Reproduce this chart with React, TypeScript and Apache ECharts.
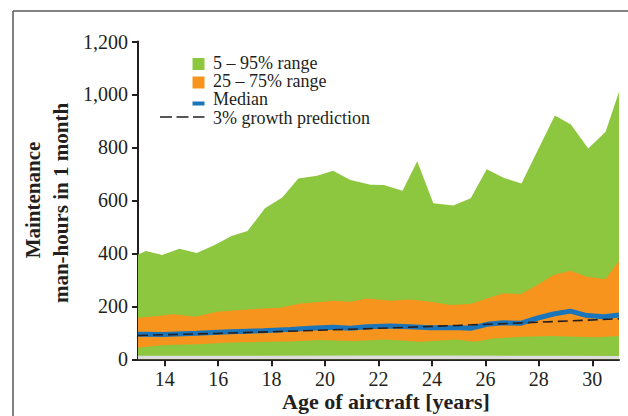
import React, { useEffect, useRef } from "react";
import * as echarts from "echarts";

// 95th percentile (upper edge of 5–95% range)
const ages95 = [13.0, 13.3, 13.9, 14.55, 15.2, 15.85, 16.5, 17.1, 17.75, 18.4, 19.0, 19.7, 20.3, 20.95, 21.7, 22.2, 22.9, 23.45, 24.05, 24.8, 25.45, 26.05, 26.7, 27.35, 28.6, 29.2, 29.85, 30.5, 31.0];
const p95 = [396, 409, 394, 417, 401, 431, 466, 484, 570, 611, 683, 693, 712, 677, 659, 658, 636, 748, 589, 581, 608, 718, 685, 664, 921, 887, 796, 859, 1010];

// 75th percentile
const ages75 = [13.0, 13.65, 14.33, 15.14, 15.96, 16.83, 17.7, 18.33, 19.07, 19.45, 20.32, 20.95, 21.57, 22.44, 23.19, 23.94, 24.69, 25.44, 26.06, 26.68, 27.31, 27.93, 28.55, 29.18, 29.8, 30.49, 31.0];
const p75 = [157, 163, 170, 161, 180, 186, 192, 195, 211, 214, 221, 217, 230, 221, 226, 217, 205, 209, 230, 249, 246, 280, 318, 334, 312, 302, 372];

// 25th percentile
const ages25 = [13.0, 13.95, 15.2, 16.45, 17.7, 18.7, 19.8, 21.05, 22.3, 23.55, 24.9, 25.6, 26.3, 27.45, 28.45, 29.45, 30.2, 31.0];
const p25 = [44, 54, 57, 63, 66, 67, 73, 69, 75, 66, 75, 66, 79, 85, 88, 85, 83, 88];

// 5th percentile
const ages5 = [13, 17, 21, 25, 29, 31];
const p5 = [13, 13, 14, 14, 13, 12];

// Median
const agesMed = [13.0, 13.95, 15.2, 16.45, 17.7, 18.7, 19.45, 20.3, 20.95, 21.57, 22.44, 23.19, 23.94, 25.06, 25.44, 26.06, 26.68, 27.31, 27.93, 28.55, 29.18, 29.8, 30.43, 31.0];
const median = [95, 94, 98, 104, 108, 113, 117, 121, 117, 123, 126, 123, 119, 119, 117, 132, 138, 136, 155, 171, 182, 165, 161, 167];

// 3% growth prediction
const agesGrowth = [13, 16, 19, 22, 25, 28, 31];
const growth = [90, 98, 107, 117, 128, 140, 153];

const xTicks = [14, 16, 18, 20, 22, 24, 26, 28, 30];
const legendLabels = ["5 – 95% range", "25 – 75% range", "Median", "3% growth prediction"];
const xTitle = "Age of aircraft [years]";
const yTitle = ["Maintenance", "man-hours in 1 month"];

const GREEN = "#8dc63f";
const ORANGE = "#f7941d";
const BLUE = "#1b75bb";
const INK = "#231f20";
const FONT = "Liberation Serif";

const pairs = (xs: number[], ys: number[]) => xs.map((x, i) => [x, ys[i]]);

export default function App() {
  const ref = useRef<HTMLDivElement>(null);
  useEffect(() => {
    if (!ref.current) return;
    const chart = echarts.init(ref.current, null, { renderer: "svg" });
    const area = (name: string, xs: number[], ys: number[], color: string, z: number) => ({
      name,
      type: "line",
      data: pairs(xs, ys),
      symbol: "none",
      lineStyle: { width: 0, color },
      areaStyle: { color, opacity: 1 },
      z,
      silent: true,
    });
    const legendY = [62.95, 81.15, 99.35, 117.55];
    chart.setOption({
      animation: false,
      grid: { left: 138, right: 9, top: 41.5, bottom: 56.7 },
      xAxis: {
        type: "value",
        min: 13,
        max: 31,
        axisLine: { lineStyle: { color: INK, width: 2 } },
        axisTick: { customValues: xTicks, length: 7, lineStyle: { color: INK, width: 2 } },
        axisLabel: { customValues: xTicks, margin: 10, color: INK, fontFamily: FONT, fontSize: 20 },
        splitLine: { show: false },
      },
      yAxis: {
        type: "value",
        min: 0,
        max: 1200,
        interval: 200,
        axisLine: { show: true, lineStyle: { color: INK, width: 2 } },
        axisTick: { show: true, length: 6, lineStyle: { color: INK, width: 2 } },
        axisLabel: {
          margin: 10,
          color: INK,
          fontFamily: FONT,
          fontSize: 20,
          formatter: (v: number) => v.toLocaleString("en-US"),
        },
        splitLine: { show: false },
      },
      series: [
        area(legendLabels[0], ages95, p95, GREEN, 1),
        area(legendLabels[1], ages75, p75, ORANGE, 2),
        area("25th", ages25, p25, GREEN, 3),
        area("5th", ages5, p5, "#dcdcdc", 4),
        {
          name: legendLabels[2],
          type: "line",
          data: pairs(agesMed, median),
          symbol: "none",
          lineStyle: { color: BLUE, width: 5 },
          z: 5,
        },
        {
          name: legendLabels[3],
          type: "line",
          data: pairs(agesGrowth, growth),
          symbol: "none",
          lineStyle: { color: INK, width: 1.6, type: [10, 5] },
          z: 6,
        },
      ],
      graphic: [
        { type: "line", shape: { x1: 13, y1: 11, x2: 628, y2: 11 }, style: { stroke: "#58595b", lineWidth: 1.5 } },
        { type: "line", shape: { x1: 13, y1: 11, x2: 13, y2: 416 }, style: { stroke: "#58595b", lineWidth: 1.5 } },
        { type: "rect", shape: { x: 192.5, y: 58, width: 12, height: 12 }, style: { fill: GREEN } },
        { type: "rect", shape: { x: 192.5, y: 76.5, width: 12, height: 12 }, style: { fill: ORANGE } },
        { type: "rect", shape: { x: 192.5, y: 101.5, width: 12, height: 4 }, style: { fill: BLUE } },
        {
          type: "line",
          shape: { x1: 160, y1: 117, x2: 204.5, y2: 117 },
          style: { stroke: INK, lineWidth: 1.6, lineDash: [12, 4.5] },
        },
        ...legendLabels.map((t, i) => ({
          type: "text",
          x: 213,
          y: legendY[i],
          style: {
            text: t,
            fill: INK,
            font: `18px '${FONT}'`,
            lineHeight: 18,
            textVerticalAlign: "middle",
            textAlign: "left",
          },
        })),
        {
          type: "text",
          x: 386,
          y: 401,
          style: { text: xTitle, fill: INK, font: `bold 22px '${FONT}'`, textAlign: "center", textVerticalAlign: "middle" },
        },
        {
          type: "text",
          x: 33,
          y: 200,
          rotation: Math.PI / 2,
          style: { text: yTitle[0], fill: INK, font: `bold 21px '${FONT}'`, textAlign: "center", textVerticalAlign: "middle" },
        },
        {
          type: "text",
          x: 61,
          y: 203,
          rotation: Math.PI / 2,
          style: { text: yTitle[1], fill: INK, font: `bold 21px '${FONT}'`, textAlign: "center", textVerticalAlign: "middle" },
        },
      ],
    });
    return () => chart.dispose();
  }, []);
  return (
    <div
      ref={ref}
      style={{ position: "fixed", left: 0, top: 0, width: 628, height: 416, background: "#fff" }}
    />
  );
}
